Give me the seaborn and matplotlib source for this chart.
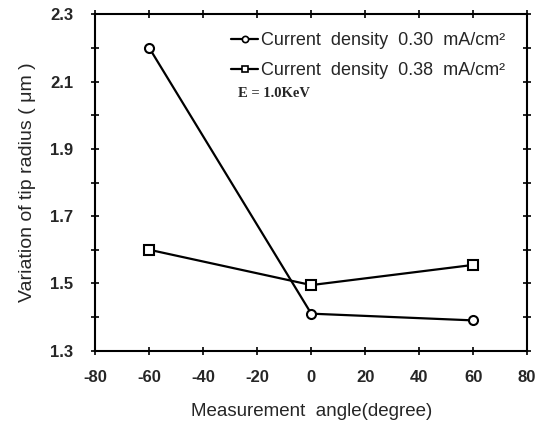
import numpy as np
import pandas as pd
import seaborn as sns
import matplotlib.pyplot as plt

sns.set_style("ticks")
plt.rcParams['font.family'] = ['Liberation Sans', 'DejaVu Sans']

# data
angle = [-60, 0, 60]
radius_030 = [2.20, 1.41, 1.39]
radius_038 = [1.60, 1.495, 1.555]
labels = ["Current  density  0.30  mA/cm\u00b2", "Current  density  0.38  mA/cm\u00b2"]
x_ticks = [-80, -60, -40, -20, 0, 20, 40, 60, 80]
y_ticks = [1.3, 1.5, 1.7, 1.9, 2.1, 2.3]

df = pd.DataFrame({
    "angle": angle * 2,
    "radius": radius_030 + radius_038,
    "series": [labels[0]] * 3 + [labels[1]] * 3,
})

fig = plt.figure(figsize=(5.48, 4.24), dpi=100)
ax = fig.add_axes([0.174, 0.173, 0.788, 0.793])

sns.lineplot(data=df, x="angle", y="radius", hue="series", style="series",
             palette=["black", "black"], markers={labels[0]: "o", labels[1]: "s"},
             dashes=False, ax=ax, legend=False, linewidth=1.6,
             markersize=6.5, markerfacecolor="white", markeredgecolor="black",
             markeredgewidth=1.5)

ax.set_xlim(-80, 80)
ax.set_ylim(1.3, 2.3)
ax.set_xticks(x_ticks)
ax.set_yticks(y_ticks)
ax.set_yticks(np.arange(1.4, 2.3, 0.2), minor=True)
ax.set_xticklabels([str(t) for t in x_ticks], fontweight="bold", fontsize=12)
ax.set_yticklabels([f"{t:.1f}" for t in y_ticks], fontweight="bold", fontsize=12)
ax.tick_params(axis="both", which="both", direction="inout", length=6, width=1.2,
               top=True, right=True, color="black")
ax.tick_params(axis="x", pad=11)
ax.tick_params(axis="y", pad=13)
for s in ax.spines.values():
    s.set_linewidth(1.5)
    s.set_color("black")

ax.set_xlabel("Measurement  angle(degree)", fontsize=13.5, labelpad=13)
ax.set_ylabel("Variation of tip radius ( \u03bcm )", fontsize=14, labelpad=10)

leg = ax.legend(handles=ax.lines, labels=labels, loc="upper left", frameon=False,
                fontsize=13, handlelength=1.5, handletextpad=0.12, labelspacing=0.75,
                bbox_to_anchor=(0.315, 0.948), borderaxespad=0, borderpad=0)
for h in leg.legend_handles:
    h.set_markersize(4.5)
    h.set_markeredgewidth(1.2)
ax.text(0.331, 0.764, "E = 1.0KeV", transform=ax.transAxes, fontsize=10.5,
        fontweight="bold", family="Liberation Serif", va="center")

fig.savefig("out.png", dpi=100)
